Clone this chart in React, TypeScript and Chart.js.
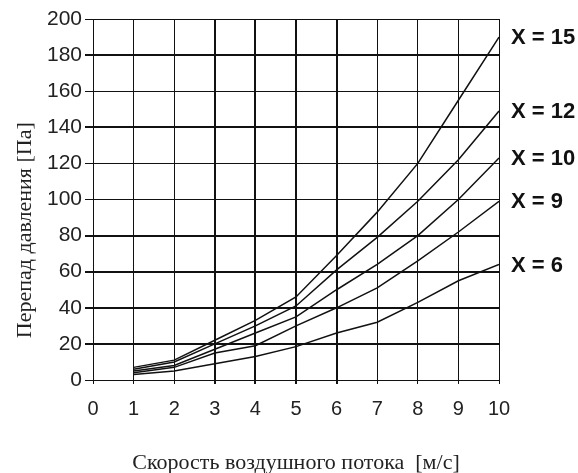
import React, { useEffect, useRef } from "react";
import { Chart, registerables } from "chart.js";

Chart.register(...registerables);

const speeds = [1, 2, 3, 4, 5, 6, 7, 8, 9, 10];
const seriesLabels = ["X = 15", "X = 12", "X = 10", "X = 9", "X = 6"];
const seriesX15 = [7, 11, 22, 33, 46, 69, 93, 120, 155, 190];
const seriesX12 = [6, 10, 20, 30, 41, 61, 79, 99, 122, 149];
const seriesX10 = [5, 8, 17, 26, 35, 50, 64, 80, 100, 123];
const seriesX9 = [4, 7, 15, 19, 30, 40, 51, 66, 82, 99];
const seriesX6 = [3, 5, 9, 13, 18.5, 26, 32, 43, 55, 64];
const allSeries = [seriesX15, seriesX12, seriesX10, seriesX9, seriesX6];

const xTickValues = [0, 1, 2, 3, 4, 5, 6, 7, 8, 9, 10];
const yTickValues = [0, 20, 40, 60, 80, 100, 120, 140, 160, 180, 200];
const thickXGrid = [3, 4, 5, 6];
const thickYGrid = [20, 40, 60, 80, 140, 180];

const xTitle = "Скорость воздушного потока  [м/с]";
const yTitle = "Перепад давления [Па]";

const endLabelsPlugin = {
  id: "endLabels",
  afterDatasetsDraw(chart: any) {
    const ctx = chart.ctx;
    const area = chart.chartArea;
    ctx.save();
    ctx.font = "bold 22px 'Liberation Sans', Arial, sans-serif";
    ctx.fillStyle = "#111";
    ctx.textAlign = "left";
    ctx.textBaseline = "middle";
    chart.data.datasets.forEach((ds: any, i: number) => {
      const meta = chart.getDatasetMeta(i);
      const pt = meta.data[meta.data.length - 1];
      if (!pt) return;
      ctx.fillText(ds.label, area.right + 12, pt.y + 1);
    });
    ctx.restore();
  },
};

const axisTitlesPlugin = {
  id: "axisTitles",
  afterDraw(chart: any) {
    const ctx = chart.ctx;
    const area = chart.chartArea;
    ctx.save();
    ctx.font = "22px 'Liberation Serif', 'Times New Roman', serif";
    ctx.fillStyle = "#222";
    ctx.textAlign = "center";
    ctx.textBaseline = "middle";
    ctx.fillText(xTitle, (area.left + area.right) / 2, area.bottom + 83);
    ctx.translate(25, area.top + (area.bottom - area.top) * 0.585);
    ctx.rotate(-Math.PI / 2);
    ctx.fillText(yTitle, 0, 0);
    ctx.restore();
  },
};

export default function App() {
  const canvasRef = useRef<HTMLCanvasElement | null>(null);

  useEffect(() => {
    if (!canvasRef.current) return;
    const chart = new Chart(canvasRef.current, {
      type: "line",
      data: {
        datasets: allSeries.map((vals, i) => ({
          label: seriesLabels[i],
          data: speeds.map((s, j) => ({ x: s, y: vals[j] })),
          borderColor: "#111",
          borderWidth: 1.5,
          pointRadius: 0,
          tension: 0,
          fill: false,
        })),
      },
      options: {
        animation: false,
        responsive: false,
        layout: { padding: { left: 0, top: 19, right: 79, bottom: 0 } },
        plugins: {
          legend: { display: false },
          tooltip: { enabled: false },
          title: { display: false },
        },
        scales: {
          x: {
            type: "linear",
            min: 0,
            max: 10,
            afterFit: (scale: any) => {
              scale.height = 93;
            },
            afterBuildTicks: (scale: any) => {
              scale.ticks = xTickValues.map((v) => ({ value: v }));
            },
            ticks: {
              font: { family: "'Liberation Sans', Arial, sans-serif", size: 20 },
              color: "#222",
              padding: 13,
              maxRotation: 0,
            },
            grid: {
              color: "#111",
              lineWidth: (c: any) => (thickXGrid.includes(c.tick?.value) ? 2 : 1),
              tickLength: 4,
              drawTicks: true,
            },
            border: { color: "#111", width: 1 },
          },
          y: {
            type: "linear",
            min: 0,
            max: 200,
            afterFit: (scale: any) => {
              scale.width = 93;
            },
            afterBuildTicks: (scale: any) => {
              scale.ticks = yTickValues.map((v) => ({ value: v }));
            },
            ticks: {
              font: { family: "'Liberation Sans', Arial, sans-serif", size: 21 },
              color: "#222",
              padding: 3,
            },
            grid: {
              color: "#111",
              lineWidth: (c: any) => (thickYGrid.includes(c.tick?.value) ? 2 : 1),
              tickLength: 8,
            },
            border: { color: "#111", width: 1 },
          },
        },
      },
      plugins: [endLabelsPlugin, axisTitlesPlugin],
    });
    return () => chart.destroy();
  }, []);

  return (
    <div style={{ position: "absolute", left: 0, top: 0, width: 578, height: 473, background: "#fff" }}>
      <canvas ref={canvasRef} width={578} height={473} style={{ display: "block" }} />
    </div>
  );
}
